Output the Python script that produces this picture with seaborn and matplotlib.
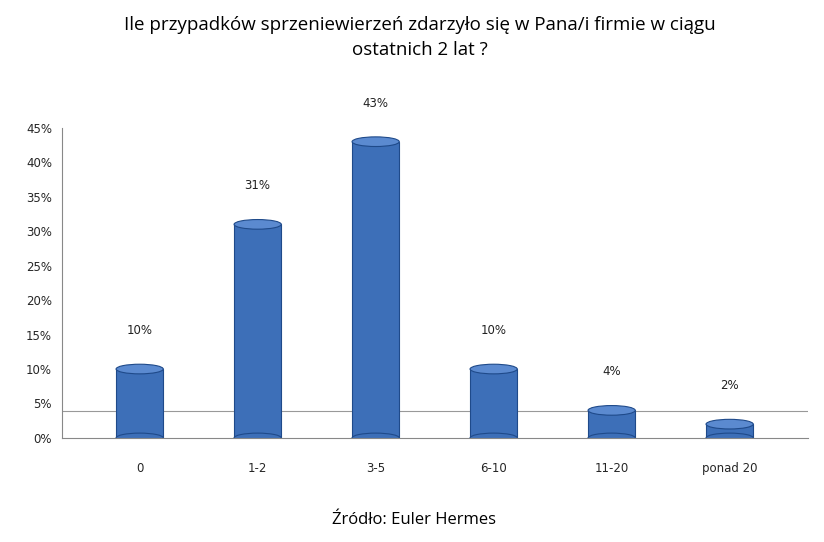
import matplotlib
matplotlib.use("Agg")
import matplotlib.pyplot as plt
import seaborn as sns
import pandas as pd
from matplotlib.patches import Ellipse

categories = ["0", "1-2", "3-5", "6-10", "11-20", "ponad 20"]
values = [10, 31, 43, 10, 4, 2]
labels = ["10%", "31%", "43%", "10%", "4%", "2%"]

sns.set_style("white")
plt.rcParams['font.family'] = ['DejaVu Sans']

df = pd.DataFrame({"kat": categories, "val": values})

fig = plt.figure(figsize=(8.24, 5.42), dpi=100)
ax = fig.add_axes([0.075, 0.192, 0.905, 0.572])
sns.barplot(data=df, x="kat", y="val", color="#3d6fb8", width=0.4,
            edgecolor="#1f4a8a", linewidth=0.8, ax=ax, saturation=1)

# cylinder tops and labels
for i, v in enumerate(values):
    ax.add_patch(Ellipse((i, v), 0.4, 1.4, facecolor="#5b8ad0",
                         edgecolor="#1f4a8a", linewidth=0.8, zorder=5))
    ax.add_patch(Ellipse((i, 0), 0.4, 1.4, facecolor="#3d6fb8",
                         edgecolor="#1f4a8a", linewidth=0.8, zorder=1))
    ax.text(i, v + 5.6, labels[i], ha="center", va="center", fontsize=8.5,
            clip_on=False, color="#222222")

ax.set_xlim(-0.66, 5.66)
ax.set_ylim(0, 45)
ax.set_yticks(range(0, 46, 5))
ax.set_yticklabels([f"{t}%" for t in range(0, 46, 5)], fontsize=8.5)
ax.tick_params(axis="x", labelsize=8.5, pad=14)
ax.set_xlabel("")
ax.set_ylabel("")
for s in ["top", "right"]:
    ax.spines[s].set_visible(False)
ax.spines["left"].set_color("#888888")
ax.spines["bottom"].set_color("#888888")
ax.axhline(3.9, color="#999999", linewidth=0.8, zorder=0)

fig.text(0.51, 0.93, "Ile przypadków sprzeniewierzeń zdarzyło się w Pana/i firmie w ciągu\nostatnich 2 lat ?",
         ha="center", va="center", fontsize=13.5, color="black",
         family=["Open Sans", "DejaVu Sans"], linespacing=1.5)
fig.text(0.503, 0.04, "Źródło: Euler Hermes", ha="center", va="center",
         fontsize=12, color="black", family=["Open Sans", "DejaVu Sans"])

fig.savefig("out.png", dpi=100)
